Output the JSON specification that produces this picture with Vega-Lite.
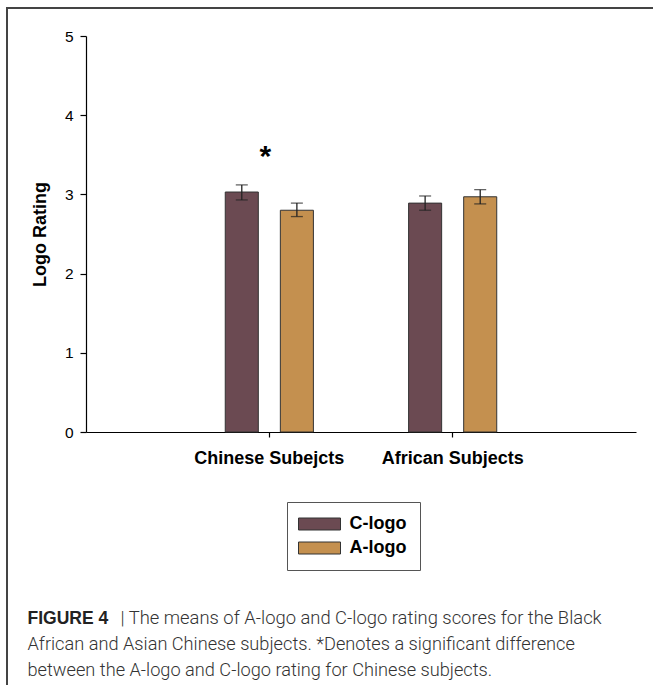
{
  "$schema": "https://vega.github.io/schema/vega-lite/v6.json",
  "width": 648,
  "height": 679,
  "autosize": {"type": "none"},
  "padding": {"left": 7, "top": 8, "right": -2, "bottom": -2},
  "background": "white",
  "config": {
    "view": {"stroke": "#444", "strokeWidth": 2},
    "axis": {"grid": false}
  },
  "data": {
    "values": [
      {"group": "Chinese Subejcts", "logo": "C-logo", "mean": 3.03, "lo": 2.93, "hi": 3.12, "sig": "*"},
      {"group": "Chinese Subejcts", "logo": "A-logo", "mean": 2.80, "lo": 2.72, "hi": 2.89, "sig": ""},
      {"group": "African Subjects", "logo": "C-logo", "mean": 2.89, "lo": 2.80, "hi": 2.98, "sig": ""},
      {"group": "African Subjects", "logo": "A-logo", "mean": 2.97, "lo": 2.88, "hi": 3.06, "sig": ""}
    ]
  },
  "resolve": {"axis": {"x": "independent", "y": "independent"}},
  "layer": [
    {
      "mark": {"type": "bar", "stroke": "#333", "strokeWidth": 1},
      "encoding": {
        "x": {
          "field": "group", "type": "nominal",
          "sort": ["Chinese Subejcts", "African Subjects"],
          "scale": {"type": "band", "range": [79, 629], "paddingInner": 0, "paddingOuter": 0.5},
          "axis": {
            "orient": "bottom", "offset": -255,
            "domainColor": "black", "domainWidth": 1.2,
            "tickColor": "black", "tickWidth": 1.2, "tickSize": 5,
            "labelAngle": 0, "labelPadding": 12,
            "labelFont": "Liberation Sans", "labelFontSize": 18, "labelFontWeight": "bold", "labelColor": "black",
            "title": "FIGURE 4",
            "titleX": 20, "titleY": 191, "titleAlign": "left", "titleAngle": 0, "titleBaseline": "alphabetic",
            "titleFont": "Liberation Sans", "titleFontSize": 17.5, "titleFontWeight": "bold", "titleColor": "#222"
          }
        },
        "xOffset": {
          "field": "logo", "type": "nominal",
          "sort": ["C-logo", "A-logo"],
          "scale": {"paddingInner": 0.4, "paddingOuter": 0.864}
        },
        "y": {
          "field": "mean", "type": "quantitative",
          "scale": {"domain": [0, 5], "range": [424, 28], "nice": false, "zero": true},
          "axis": {
            "orient": "left", "offset": -79,
            "values": [0, 1, 2, 3, 4, 5],
            "domainColor": "black", "domainWidth": 1.2,
            "tickColor": "black", "tickWidth": 1.2, "tickSize": 6,
            "labelPadding": 7,
            "labelFont": "Liberation Sans", "labelFontSize": 15.5, "labelColor": "black",
            "title": "Logo Rating",
            "titleX": -46, "titleY": 226, "titleAngle": 270, "titleAlign": "center", "titleBaseline": "middle",
            "titleFont": "Liberation Sans", "titleFontSize": 18, "titleFontWeight": "bold", "titleColor": "black"
          }
        },
        "color": {
          "field": "logo", "type": "nominal",
          "scale": {"domain": ["C-logo", "A-logo"], "range": ["#6B4A52", "#C4904F"]},
          "legend": {
            "orient": "none", "legendX": 280, "legendY": 494,
            "title": null,
            "strokeColor": "#555", "padding": 13,
            "symbolType": "M-3.5,-1H3.5V1H-3.5Z", "symbolSize": 144,
            "symbolOffset": 10.5, "labelOffset": 21,
            "symbolStrokeColor": "#333", "symbolStrokeWidth": 1, "symbolOpacity": 1,
            "labelFont": "Liberation Sans", "labelFontSize": 18, "labelFontWeight": "bold", "labelColor": "black",
            "rowPadding": 6
          }
        }
      }
    },
    {
      "mark": {"type": "rule", "color": "#222", "strokeWidth": 1.3},
      "encoding": {
        "x": {
          "field": "group", "type": "nominal",
          "sort": ["Chinese Subejcts", "African Subjects"],
          "axis": {
            "orient": "top", "domain": false, "ticks": false, "labels": false,
            "title": "| The means of A-logo and C-logo rating scores for the Black",
            "titleX": 113, "titleY": 615, "titleAlign": "left", "titleAngle": 0, "titleBaseline": "alphabetic",
            "titleFont": "Roboto", "titleFontSize": 18.4, "titleFontWeight": 300, "titleColor": "#333"
          }
        },
        "xOffset": {"field": "logo", "type": "nominal", "sort": ["C-logo", "A-logo"]},
        "y": {
          "field": "lo", "type": "quantitative",
          "axis": {
            "orient": "right", "domain": false, "ticks": false, "labels": false,
            "title": ["African and Asian Chinese subjects. *Denotes a significant difference", "between the A-logo and C-logo rating for Chinese subjects."],
            "titleX": -628, "titleY": 641, "titleAlign": "left", "titleAngle": 0, "titleBaseline": "alphabetic",
            "titleLineHeight": 26,
            "titleFont": "Roboto", "titleFontSize": 18.2, "titleFontWeight": 300, "titleColor": "#333"
          }
        },
        "y2": {"field": "hi"}
      }
    },
    {
      "mark": {"type": "tick", "color": "#222", "size": 12, "thickness": 1.3},
      "encoding": {
        "x": {"field": "group", "type": "nominal", "sort": ["Chinese Subejcts", "African Subjects"], "axis": null},
        "xOffset": {"field": "logo", "type": "nominal", "sort": ["C-logo", "A-logo"]},
        "y": {"field": "lo", "type": "quantitative", "axis": null}
      }
    },
    {
      "mark": {"type": "tick", "color": "#222", "size": 12, "thickness": 1.3},
      "encoding": {
        "x": {"field": "group", "type": "nominal", "sort": ["Chinese Subejcts", "African Subjects"], "axis": null},
        "xOffset": {"field": "logo", "type": "nominal", "sort": ["C-logo", "A-logo"]},
        "y": {"field": "hi", "type": "quantitative", "axis": null}
      }
    },
    {
      "transform": [{"filter": "datum.sig == '*'"}],
      "mark": {"type": "text", "font": "Liberation Sans", "fontSize": 30, "fontWeight": "bold", "color": "black", "baseline": "alphabetic", "dx": -4, "dy": -19},
      "encoding": {
        "x": {"field": "group", "type": "nominal", "sort": ["Chinese Subejcts", "African Subjects"], "axis": null},
        "y": {"field": "hi", "type": "quantitative", "axis": null},
        "text": {"field": "sig"}
      }
    }
  ]
}
